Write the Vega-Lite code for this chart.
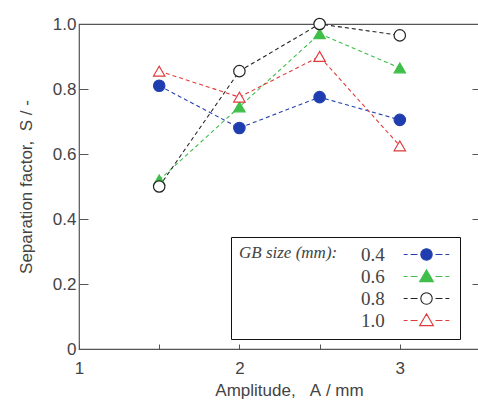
{
  "$schema": "https://vega.github.io/schema/vega-lite/v6.json",
  "width": 401,
  "height": 325,
  "autosize": {"type": "none"},
  "padding": {"left": 79, "top": 24, "right": 0, "bottom": 56},
  "background": "white",
  "config": {
    "view": {"stroke": "#555", "strokeWidth": 1.2},
    "axis": {
      "grid": false,
      "domain": false,
      "labelFont": "Liberation Sans",
      "titleFont": "Liberation Sans",
      "labelColor": "#444",
      "titleColor": "#444",
      "labelFontSize": 17,
      "titleFontSize": 17,
      "titleFontWeight": "normal",
      "tickColor": "#555"
    }
  },
  "data": {
    "values": [
      {"gb": "0.4", "a": 1.5, "s": 0.81},
      {"gb": "0.4", "a": 2.0, "s": 0.68},
      {"gb": "0.4", "a": 2.5, "s": 0.775},
      {"gb": "0.4", "a": 3.0, "s": 0.705},
      {"gb": "0.6", "a": 1.5, "s": 0.52},
      {"gb": "0.6", "a": 2.0, "s": 0.745},
      {"gb": "0.6", "a": 2.5, "s": 0.97},
      {"gb": "0.6", "a": 3.0, "s": 0.865},
      {"gb": "0.8", "a": 1.5, "s": 0.5},
      {"gb": "0.8", "a": 2.0, "s": 0.855},
      {"gb": "0.8", "a": 2.5, "s": 1.0},
      {"gb": "0.8", "a": 3.0, "s": 0.965},
      {"gb": "1.0", "a": 1.5, "s": 0.855},
      {"gb": "1.0", "a": 2.0, "s": 0.775},
      {"gb": "1.0", "a": 2.5, "s": 0.9},
      {"gb": "1.0", "a": 3.0, "s": 0.625}
    ]
  },
  "layer": [
    {
      "mark": {"type": "line", "strokeDash": [4, 3], "strokeWidth": 1.1},
      "encoding": {
        "x": {
          "field": "a", "type": "quantitative",
          "scale": {"domain": [1, 3.5], "nice": false, "zero": false},
          "axis": {
            "values": [1, 1.5, 2, 2.5, 3],
            "labelExpr": "datum.value % 1 == 0 ? format(datum.value, 'd') : ''",
            "tickSize": -5,
            "labelPadding": 16,
            "labelFlush": false,
            "title": "Amplitude,\u00a0\u00a0\u00a0A\u00a0/\u00a0mm",
            "titlePadding": 6,
            "titleX": 210
          }
        },
        "y": {
          "field": "s", "type": "quantitative",
          "scale": {"domain": [0, 1], "nice": false},
          "axis": {
            "values": [0, 0.2, 0.4, 0.6, 0.8, 1],
            "labelExpr": "datum.value == 0 ? '0' : format(datum.value, '.1f')",
            "tickSize": -9,
            "labelPadding": 12,
            "title": "Separation factor,\u00a0\u00a0S\u00a0/\u00a0-",
            "titlePadding": 17
          }
        },
        "stroke": {
          "field": "gb", "type": "nominal",
          "scale": {"domain": ["0.4", "0.6", "0.8", "1.0"], "range": ["#2341b0", "#3fbf4a", "#222222", "#e03a3a"]},
          "legend": null
        },
        "detail": {"field": "gb"}
      }
    },
    {
      "mark": {"type": "point", "filled": false, "size": 130, "strokeWidth": 1.2, "opacity": 1},
      "encoding": {
        "x": {"field": "a", "type": "quantitative"},
        "y": {
          "field": "s", "type": "quantitative",
          "axis": {"orient": "right", "labels": false, "title": null, "tickSize": -8, "values": [0, 0.2, 0.4, 0.6, 0.8, 1]}
        },
        "stroke": {
          "field": "gb", "type": "nominal",
          "scale": {"domain": ["0.4", "0.6", "0.8", "1.0"], "range": ["#2341b0", "#3fbf4a", "#222222", "#e03a3a"]},
          "legend": null
        },
        "fill": {
          "field": "gb", "type": "nominal",
          "scale": {"domain": ["0.4", "0.6", "0.8", "1.0"], "range": ["#1f3dae", "#3fbf4a", "#ffffff", "#ffffff"]},
          "legend": null
        },
        "shape": {
          "field": "gb", "type": "nominal",
          "scale": {"domain": ["0.4", "0.6", "0.8", "1.0"], "range": ["circle", "triangle-up", "circle", "triangle-up"]},
          "legend": null
        }
      }
    },
    {
      "mark": {"type": "point", "filled": false, "size": 144, "strokeWidth": 1.1, "opacity": 0},
      "encoding": {
        "x": {"field": "a", "type": "quantitative"},
        "y": {"field": "s", "type": "quantitative", "axis": null},
        "stroke": {
          "field": "gb", "type": "nominal",
          "scale": {"domain": ["0.4", "0.6", "0.8", "1.0"], "range": ["#2341b0", "#3fbf4a", "#222222", "#e03a3a"]},
          "legend": {"title": "GB size (mm):"}
        },
        "fill": {
          "field": "gb", "type": "nominal",
          "scale": {"domain": ["0.4", "0.6", "0.8", "1.0"], "range": ["#1f3dae", "#3fbf4a", "#ffffff", "#ffffff"]},
          "legend": {"title": "GB size (mm):"}
        },
        "shape": {
          "field": "gb", "type": "nominal",
          "scale": {
            "domain": ["0.4", "0.6", "0.8", "1.0"],
            "range": [
              "M-0.95,0A0.95,0.95 0 1,0 0.95,0A0.95,0.95 0 1,0 -0.95,0ZM-3.8,0L-3.15,0M-2.65,0L-1.5,0M1.5,0L2.65,0M3.15,0L3.8,0",
              "M0,-1.1L1.15,0.85L-1.15,0.85ZM-3.8,0L-3.15,0M-2.65,0L-1.5,0M1.5,0L2.65,0M3.15,0L3.8,0",
              "M-0.95,0A0.95,0.95 0 1,0 0.95,0A0.95,0.95 0 1,0 -0.95,0ZM-3.8,0L-3.15,0M-2.65,0L-1.5,0M1.5,0L2.65,0M3.15,0L3.8,0",
              "M0,-1.1L1.15,0.85L-1.15,0.85ZM-3.8,0L-3.15,0M-2.65,0L-1.5,0M1.5,0L2.65,0M3.15,0L3.8,0"
            ]
          },
          "legend": {
            "title": "GB size (mm):",
            "orient": "none",
            "legendX": 152,
            "legendY": 213,
            "direction": "vertical",
            "titleOrient": "left",
            "titleAnchor": "start",
            "titleBaseline": "top",
            "titleFont": "Liberation Serif",
            "titleFontStyle": "italic",
            "titleFontWeight": "normal",
            "titleFontSize": 17,
            "titleColor": "#444",
            "titlePadding": 4,
            "labelFont": "Liberation Serif",
            "labelFontSize": 19,
            "labelColor": "#444",
            "labelAlign": "left",
            "labelOffset": -75,
            "symbolOffset": 75,
            "symbolSize": 144,
            "symbolStrokeWidth": 1.1,
            "symbolOpacity": 1,
            "rowPadding": 2,
            "padding": 8,
            "strokeColor": "#111",
            "fillColor": "white",
            "cornerRadius": 0,
            "encode": {"symbols": {"update": {"opacity": {"value": 1}}}}
          }
        }
      }
    }
  ],
  "resolve": {
    "scale": {"stroke": "independent", "fill": "independent", "shape": "independent"},
    "legend": {"stroke": "independent", "fill": "independent", "shape": "independent"},
    "axis": {"y": "independent"}
  }
}
